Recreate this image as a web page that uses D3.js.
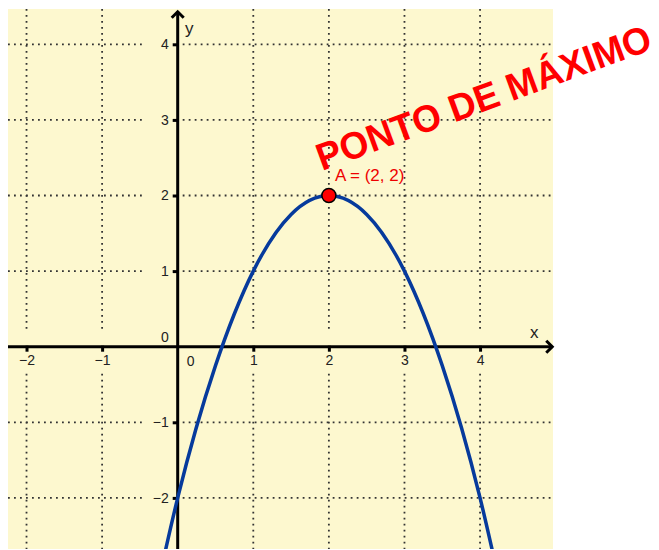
<!DOCTYPE html>
<html>
<head>
<meta charset="utf-8">
<script src="https://cdn.jsdelivr.net/npm/d3@7"></script>
<style>
  body { margin: 0; background: #fff; }
  text { font-family: "Liberation Sans", Arial, sans-serif; }
</style>
</head>
<body>
<div id="chart"></div>
<script>
// values
const xTicks = [-2, -1, 1, 2, 3, 4];
const yTicks = [-2, -1, 1, 2, 3, 4];
const curveX = [-0.5, 0, 0.5, 1, 1.5, 2, 2.5, 3, 3.5, 4, 4.5];
const curveY = [-4.25, -2, -0.25, 1, 1.75, 2, 1.75, 1, -0.25, -2, -4.25];
const pointA = {name: "A", x: 2, y: 2};
const title = "PONTO DE MÁXIMO";

const W = 659, H = 550;
const svg = d3.select("#chart").append("svg")
    .attr("width", W)
    .attr("height", H);

const x = d3.scaleLinear().domain([-2.245, 4.965]).range([8, 553]);
const y = d3.scaleLinear().domain([-2.676, 4.467]).range([549, 9]);
const [x0, x1] = x.domain(), [y0, y1] = y.domain();

// yellow plot area
svg.append("rect")
    .attr("x", x(x0)).attr("y", y(y1))
    .attr("width", x(x1) - x(x0))
    .attr("height", y(y0) - y(y1))
    .attr("fill", "#fdf8cf");

svg.append("clipPath").attr("id", "plot")
  .append("rect")
    .attr("x", x(x0)).attr("y", y(y1))
    .attr("width", x(x1) - x(x0))
    .attr("height", y(y0) - y(y1));

// dotted grid, broken where the axis labels sit
const grid = svg.append("g")
    .attr("stroke", "#333")
    .attr("stroke-width", 1.8)
    .attr("stroke-dasharray", "1.8,4.2");
xTicks.forEach(d => {
    grid.append("line")
        .attr("x1", x(d)).attr("x2", x(d))
        .attr("y1", y(y1)).attr("y2", y(0) - 14);
    grid.append("line")
        .attr("x1", x(d)).attr("x2", x(d))
        .attr("y1", y(0) + 27).attr("y2", y(y0));
});
yTicks.forEach(d => {
    grid.append("line")
        .attr("y1", y(d)).attr("y2", y(d))
        .attr("x1", x(x0)).attr("x2", x(0) - 33);
    grid.append("line")
        .attr("y1", y(d)).attr("y2", y(d))
        .attr("x1", x(0) + 5).attr("x2", x(x1));
});

// axes
const fmt = d => d < 0 ? "\u2212" + Math.abs(d) : d;
const xAxis = svg.append("g")
    .attr("transform", `translate(0,${y(0)})`)
    .call(d3.axisBottom(x).tickValues(xTicks).tickSize(5).tickPadding(3).tickFormat(fmt));
const yAxis = svg.append("g")
    .attr("transform", `translate(${x(0)},0)`)
    .call(d3.axisLeft(y).tickValues(yTicks).tickSize(5).tickPadding(4).tickFormat(fmt));
[xAxis, yAxis].forEach(g => {
    g.select(".domain").remove();
    g.selectAll(".tick line").attr("stroke", "#000").attr("stroke-width", 3);
    g.selectAll(".tick text").attr("fill", "#222").style("font-size", "14px")
        .style("font-family", "'Liberation Sans', Arial, sans-serif");
});
xAxis.selectAll(".tick line").attr("y1", -1);
yAxis.selectAll(".tick line").attr("x1", 1);

const axisLines = svg.append("g")
    .attr("stroke", "#000").attr("stroke-width", 3).attr("fill", "none");
axisLines.append("line")
    .attr("x1", x(x0)).attr("x2", x(4.955))
    .attr("y1", y(0)).attr("y2", y(0));
axisLines.append("line")
    .attr("x1", x(0)).attr("x2", x(0))
    .attr("y1", y(y0)).attr("y2", y(4.43));
axisLines.append("path")
    .attr("d", `M${x(4.955) - 6},${y(0) - 6}L${x(4.955)},${y(0)}L${x(4.955) - 6},${y(0) + 6}`);
axisLines.append("path")
    .attr("d", `M${x(0) - 6},${y(4.43) + 6}L${x(0)},${y(4.43)}L${x(0) + 6},${y(4.43) + 6}`);

// origin labels and axis names
svg.append("text").attr("x", x(0) + 13).attr("y", y(0) + 19)
    .attr("text-anchor", "middle").attr("fill", "#222").style("font-size", "14px").text("0");
svg.append("text").attr("x", x(0) - 9).attr("y", y(0) - 5)
    .attr("text-anchor", "end").attr("fill", "#222").style("font-size", "14px").text("0");
svg.append("text").attr("x", 530).attr("y", 338)
    .attr("fill", "#222").style("font-size", "17px").text("x");
svg.append("text").attr("x", 185).attr("y", 34)
    .attr("fill", "#222").style("font-size", "17px").text("y");

// parabola through the read points
const line = d3.line()
    .x((d, i) => x(curveX[i]))
    .y(d => y(d))
    .curve(d3.curveNatural);
svg.append("path")
    .datum(curveY)
    .attr("clip-path", "url(#plot)")
    .attr("d", line)
    .attr("fill", "none")
    .attr("stroke", "#063a9c")
    .attr("stroke-width", 3.5);

// maximum point
svg.append("circle")
    .attr("cx", x(pointA.x)).attr("cy", y(pointA.y)).attr("r", 7)
    .attr("fill", "#f00").attr("stroke", "#000").attr("stroke-width", 1.5);
svg.append("text")
    .attr("x", x(pointA.x) + 6).attr("y", y(pointA.y) - 15)
    .attr("fill", "#e00").style("font-size", "17px")
    .text(`${pointA.name} = (${pointA.x}, ${pointA.y})`);

svg.append("text")
    .attr("transform", "translate(322,171) rotate(-20.2)")
    .attr("fill", "#f00")
    .attr("textLength", 354)
    .attr("lengthAdjust", "spacingAndGlyphs")
    .style("font-size", "38px")
    .style("font-weight", "bold")
    .text(title);
</script>
</body>
</html>
